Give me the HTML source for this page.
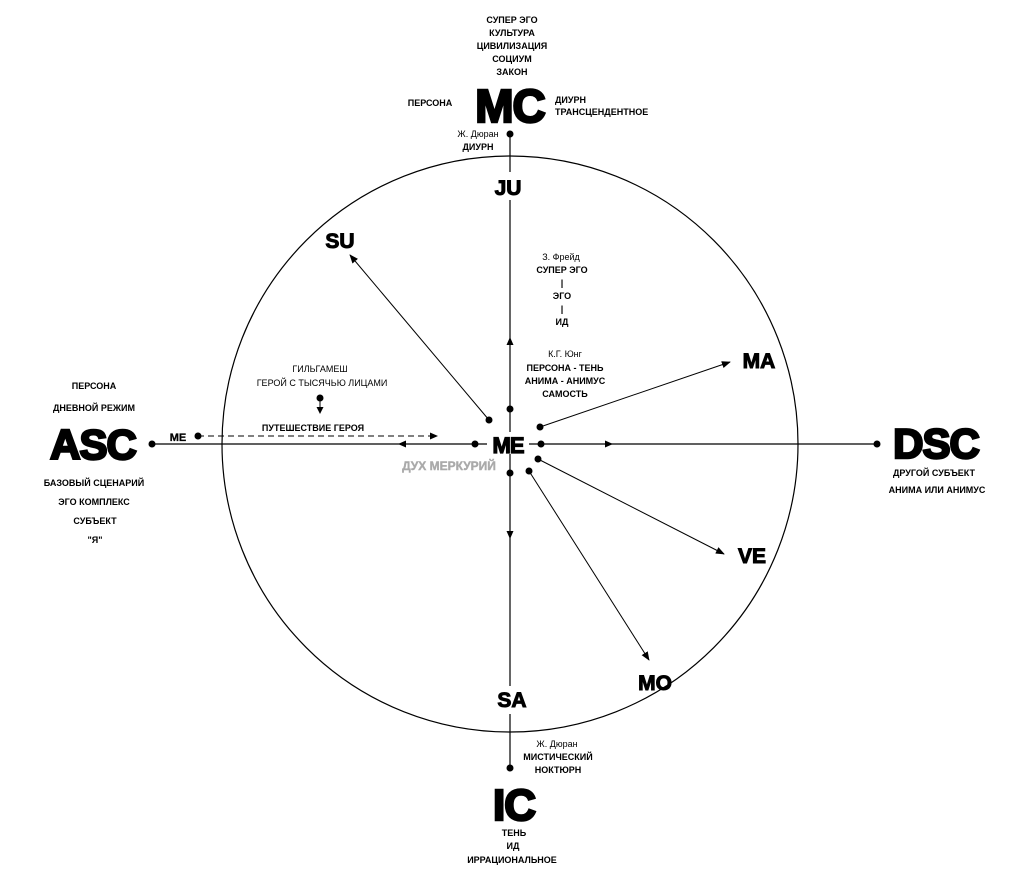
<!DOCTYPE html>
<html><head><meta charset="utf-8"><style>
html,body{margin:0;padding:0;background:#fff;}
svg{display:block;}
text{font-family:"Liberation Sans",sans-serif;}
.s{font-size:9px;font-weight:bold;text-anchor:middle;}
.n{font-size:9px;text-anchor:middle;}
.b{font-weight:bold;text-anchor:middle;stroke:#000;}
</style></head><body>
<svg width="1033" height="882" viewBox="0 0 1033 882" xmlns="http://www.w3.org/2000/svg">
<defs>
<marker id="a" viewBox="0 0 10 10" refX="9" refY="5" markerWidth="9" markerHeight="9" markerUnits="userSpaceOnUse" orient="auto"><path d="M0,1 L10,5 L0,9 z" fill="#000"/></marker>
</defs>
<circle cx="510" cy="444" r="288" fill="none" stroke="#000" stroke-width="1.2"/>
<line x1="510" y1="134" x2="510" y2="768" stroke="#000" stroke-width="1.2"/>
<line x1="152" y1="444" x2="877" y2="444" stroke="#000" stroke-width="1.2"/>
<path d="M510,337 l-3.5,8 h7z" fill="#000"/>
<path d="M510,539 l-3.5,-8 h7z" fill="#000"/>
<path d="M398,444 l8,-3.5 v7z" fill="#000"/>
<path d="M613,444 l-8,-3.5 v7z" fill="#000"/>
<line x1="198" y1="436" x2="430" y2="436" stroke="#000" stroke-width="1" stroke-dasharray="6,4"/>
<path d="M438,436 l-8,-3.5 v7z" fill="#000"/>
<line x1="320" y1="398" x2="320" y2="408" stroke="#000"/>
<path d="M320,414 l-3.5,-7 h7z" fill="#000"/>
<line x1="489" y1="420" x2="350" y2="255" stroke="#000" marker-end="url(#a)"/>
<line x1="540" y1="427" x2="730" y2="362" stroke="#000" marker-end="url(#a)"/>
<line x1="538" y1="459" x2="724" y2="554" stroke="#000" marker-end="url(#a)"/>
<line x1="529" y1="471" x2="649" y2="660" stroke="#000" marker-end="url(#a)"/>
<g fill="#000">
<circle cx="510" cy="134" r="3.5"/><circle cx="510" cy="768" r="3.5"/>
<circle cx="152" cy="444" r="3.5"/><circle cx="877" cy="444" r="3.5"/>
<circle cx="198" cy="436" r="3.5"/><circle cx="320" cy="398" r="3.5"/>
<circle cx="475" cy="444" r="3.5"/><circle cx="541" cy="444" r="3.5"/>
<circle cx="510" cy="409" r="3.5"/><circle cx="510" cy="473" r="3.5"/>
<circle cx="489" cy="420" r="3.5"/><circle cx="540" cy="427" r="3.5"/>
<circle cx="538" cy="459" r="3.5"/><circle cx="529" cy="471" r="3.5"/>
</g>
<rect x="488" y="172" width="44" height="28" fill="#fff"/>
<rect x="490" y="686" width="44" height="28" fill="#fff"/>
<rect x="487" y="432" width="42" height="22" fill="#fff"/>
<text x="510" y="122" class="b" font-size="46" stroke-width="2.5" letter-spacing="-1">MC</text>
<text x="93" y="459" class="b" font-size="42" stroke-width="2.5" letter-spacing="-1">ASC</text>
<text x="936" y="458" class="b" font-size="42" stroke-width="2.5" letter-spacing="-1">DSC</text>
<text x="514" y="820" class="b" font-size="44" stroke-width="2.5" letter-spacing="-1">IC</text>
<text x="508" y="195" class="b" font-size="21" stroke-width="1">JU</text>
<text x="512" y="707" class="b" font-size="21" stroke-width="1">SA</text>
<text x="508" y="453" class="b" font-size="22" stroke-width="1.2" letter-spacing="-1">ME</text>
<text x="340" y="248" class="b" font-size="21" stroke-width="1">SU</text>
<text x="759" y="368" class="b" font-size="21" stroke-width="1">MA</text>
<text x="752" y="563" class="b" font-size="21" stroke-width="1">VE</text>
<text x="655" y="690" class="b" font-size="21" stroke-width="1">MO</text>
<text x="178" y="441" class="b" font-size="11" stroke-width="0.3">ME</text>
<text x="449" y="470" font-weight="bold" text-anchor="middle" font-size="12" fill="#aaa" stroke="#aaa" stroke-width="0.4">ДУХ МЕРКУРИЙ</text>
<g class="s">
<text x="512" y="23">СУПЕР ЭГО</text><text x="512" y="36">КУЛЬТУРА</text><text x="512" y="49">ЦИВИЛИЗАЦИЯ</text><text x="512" y="62">СОЦИУМ</text><text x="512" y="75">ЗАКОН</text>
<text x="430" y="106">ПЕРСОНА</text>
<text x="555" y="103" style="text-anchor:start">ДИУРН</text>
<text x="555" y="115" style="text-anchor:start">ТРАНСЦЕНДЕНТНОЕ</text>
<text x="478" y="150">ДИУРН</text>
<text x="562" y="273">СУПЕР ЭГО</text><text x="562" y="286">|</text><text x="562" y="299">ЭГО</text><text x="562" y="312">|</text><text x="562" y="325">ИД</text>
<text x="565" y="371">ПЕРСОНА - ТЕНЬ</text><text x="565" y="384">АНИМА - АНИМУС</text><text x="565" y="397">САМОСТЬ</text>
<text x="320" y="372" font-weight="normal">ГИЛЬГАМЕШ</text><text x="322" y="386" font-weight="normal">ГЕРОЙ С ТЫСЯЧЬЮ ЛИЦАМИ</text>
<text x="313" y="431">ПУТЕШЕСТВИЕ ГЕРОЯ</text>
<text x="94" y="389">ПЕРСОНА</text><text x="94" y="411">ДНЕВНОЙ РЕЖИМ</text>
<text x="94" y="486">БАЗОВЫЙ СЦЕНАРИЙ</text><text x="94" y="505">ЭГО КОМПЛЕКС</text><text x="95" y="524">СУБЪЕКТ</text><text x="95" y="543">"Я"</text>
<text x="934" y="476">ДРУГОЙ СУБЪЕКТ</text><text x="937" y="493">АНИМА ИЛИ АНИМУС</text>
<text x="558" y="760">МИСТИЧЕСКИЙ</text><text x="558" y="773">НОКТЮРН</text>
<text x="514" y="836">ТЕНЬ</text><text x="513" y="849">ИД</text><text x="512" y="863">ИРРАЦИОНАЛЬНОЕ</text>
</g>
<g class="n">
<text x="478" y="137">Ж. Дюран</text>
<text x="561" y="260">З. Фрейд</text>
<text x="565" y="357">К.Г. Юнг</text>
<text x="557" y="747">Ж. Дюран</text>
</g>
</svg>
</body></html>
